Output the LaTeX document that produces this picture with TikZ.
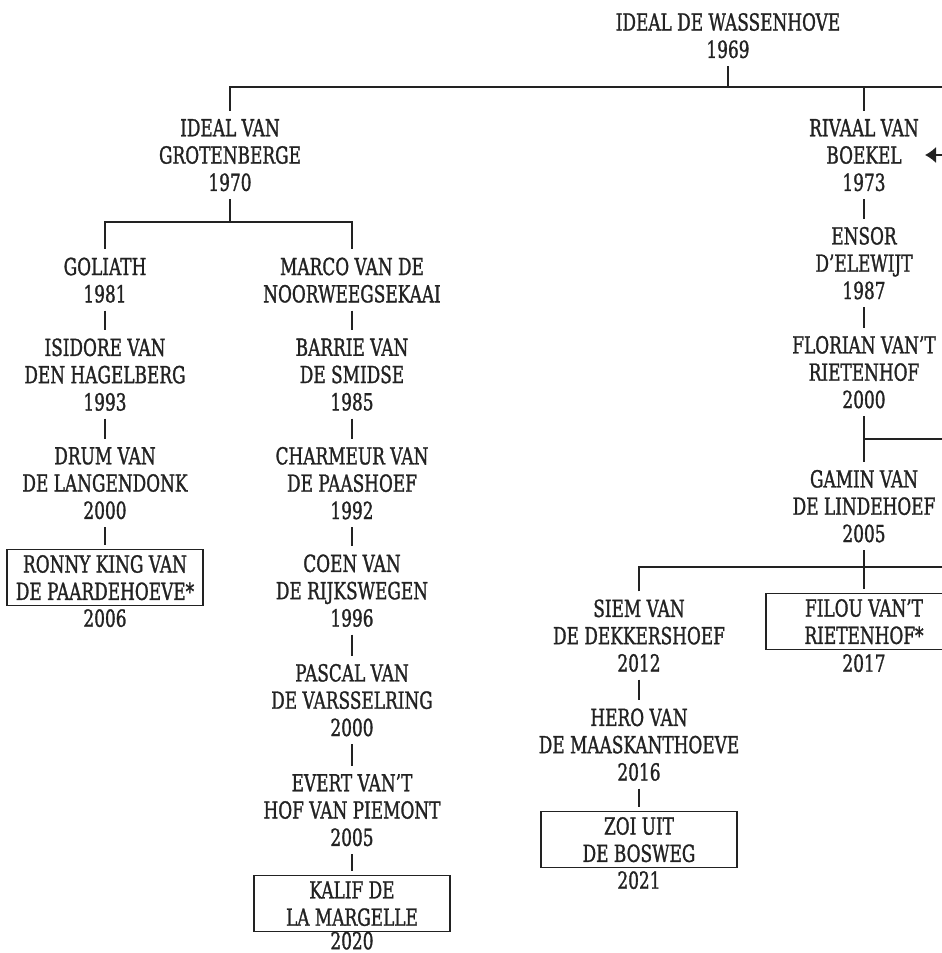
\documentclass[tikz,border=0pt]{standalone}
\usepackage{fontspec}
\setmainfont{DejaVu Serif}[FakeStretch=0.72, FakeBold=1.2]
\usetikzlibrary{arrows.meta}
\definecolor{ink}{HTML}{222222}
\tikzset{
  horse/.style = {align = center, text = ink, inner xsep = 2pt, inner ysep = 8pt,
    text depth = 0pt, font = \fontsize{23.5}{27.3}\selectfont},
  boxed/.style = {horse, draw = ink, line width = 1.1pt, minimum width = 196pt,
    inner ysep = 6pt, outer ysep = 4pt},
  year/.style = {horse, inner ysep = 1pt},
  link/.style = {draw = ink, line width = 1.2pt}
}
\begin{document}
\begin{tikzpicture}[x = 1pt, y = -1pt]
		\useasboundingbox (0, 0) rectangle (942, 953);
		\clip (0, 0) rectangle (942, 953);
		% founder and first generation
		\node[horse] (root) at (728, 35.5) {IDEAL DE WASSENHOVE\\1969};
		\node[horse] (ideal) at (230, 155) {IDEAL VAN\\GROTENBERGE\\1970};
		\node[horse] (rivaal) at (864, 155) {RIVAAL VAN\\BOEKEL\\1973};
		% left line
		\node[horse] (goliath) at (105, 280) {GOLIATH\\1981};
		\node[horse] (isidore) at (105, 374.5) {ISIDORE VAN\\DEN HAGELBERG\\1993};
		\node[horse] (drum) at (105, 483) {DRUM VAN\\DE LANGENDONK\\2000};
		\node[boxed] (ronny) at (105, 577.5) {RONNY KING VAN\\DE PAARDEHOEVE*};
			\node[year] (ronnyyear) at (105, 618) {2006};
		% middle line
		\node[horse] (marco) at (352, 280) {MARCO VAN DE\\NOORWEEGSEKAAI};
		\node[horse] (barrie) at (352, 374.5) {BARRIE VAN\\DE SMIDSE\\1985};
		\node[horse] (charmeur) at (352, 483) {CHARMEUR VAN\\DE PAASHOEF\\1992};
		\node[horse] (coen) at (352, 590.5) {COEN VAN\\DE RIJKSWEGEN\\1996};
		\node[horse] (pascal) at (352, 700) {PASCAL VAN\\DE VARSSELRING\\2000};
		\node[horse] (evert) at (352, 810) {EVERT VAN'T\\HOF VAN PIEMONT\\2005};
		\node[boxed] (kalif) at (352, 903.5) {KALIF DE\\LA MARGELLE};
			\node[year] (kalifyear) at (352, 940.5) {2020};
		% right line
		\node[horse] (ensor) at (864, 263) {ENSOR\\D'ELEWIJT\\1987};
		\node[horse] (florian) at (864, 372) {FLORIAN VAN'T\\RIETENHOF\\2000};
		\node[horse] (gamin) at (864, 506) {GAMIN VAN\\DE LINDEHOEF\\2005};
		\node[horse] (siem) at (639, 635.5) {SIEM VAN\\DE DEKKERSHOEF\\2012};
		\node[boxed] (filou) at (864, 621.5) {FILOU VAN'T\\RIETENHOF*};
			\node[year] (filouyear) at (864, 663) {2017};
		\node[horse] (hero) at (639, 744.5) {HERO VAN\\DE MAASKANTHOEVE\\2016};
		\node[boxed] (zoi) at (639, 839.5) {ZOI UIT\\DE BOSWEG};
			\node[year] (zoiyear) at (639, 880) {2021};
		% lines running off the right edge
		\coordinate (rootedge) at (960, 87);
		\coordinate (florianedge) at (960, 439);
		\coordinate (gaminedge) at (960, 567);
		\coordinate (arrowtail) at (960, 155);
		\coordinate (arrowtip) at (925, 155);
		% forks
		\draw[link] (ideal.north) |- (rootedge);
		\draw[link] (root.south) -- (root.south |- rootedge);
		\draw[link] (rivaal.north) -- (rivaal.north |- rootedge);
		\draw[link] (ideal.south) -- ++(0, 23) -| (goliath.north);
		\draw[link] (ideal.south) ++(0, 23) -| (marco.north);
		\draw[link] (florian.south |- florianedge) -- (florianedge);
		\draw[link] (siem.north) |- (gaminedge);
		\draw[link] (gamin.south) -- (filou.north);
		\draw[link, -{Latex[length = 11pt, width = 16pt]}] (arrowtail) -- (arrowtip);
		% straight descent
		\foreach \a/\b in {goliath/isidore, isidore/drum, drum/ronny, marco/barrie, barrie/charmeur, charmeur/coen, coen/pascal, pascal/evert, evert/kalif, rivaal/ensor, ensor/florian, florian/gamin, siem/hero, hero/zoi}
			\draw[link] (\a.south) -- (\b.north);
	\end{tikzpicture}
\end{document}
